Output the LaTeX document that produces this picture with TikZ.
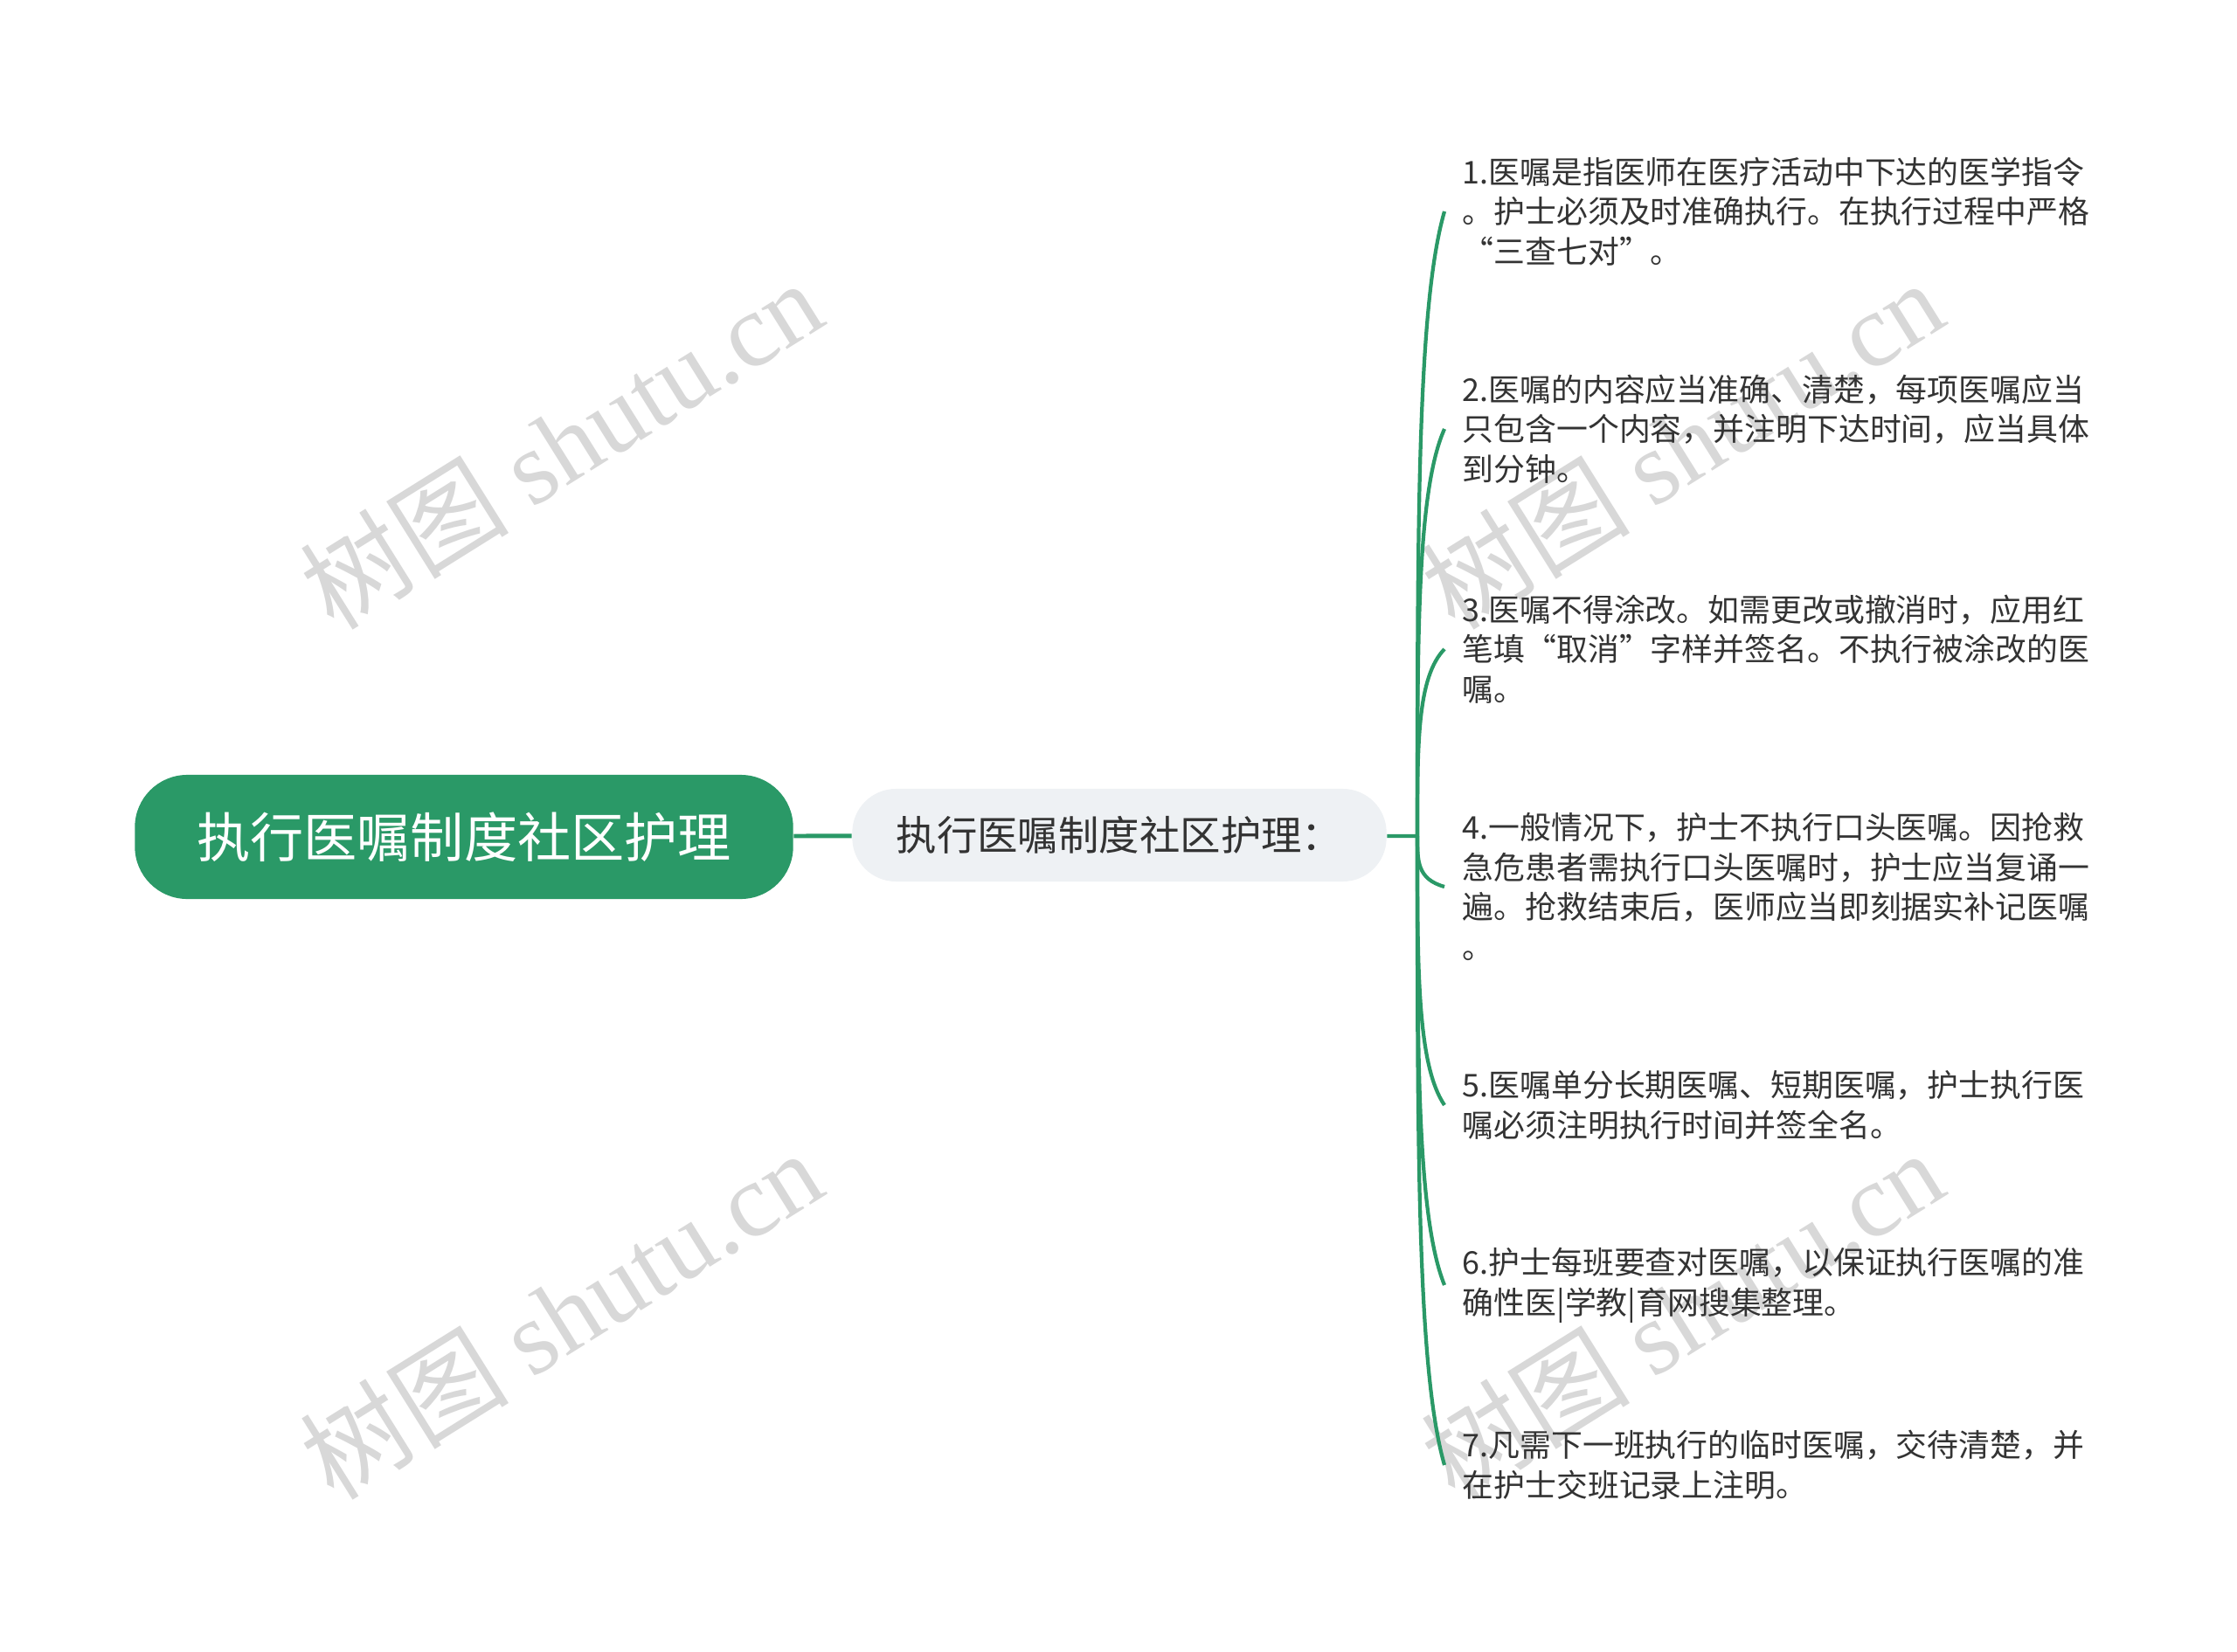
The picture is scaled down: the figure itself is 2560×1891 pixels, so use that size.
\documentclass[tikz,border=0pt]{standalone}
\usepackage{fontspec}
\setmainfont{Noto Sans CJK SC}
\newfontfamily\wmlatin{Liberation Serif}
\usetikzlibrary{calc}
\definecolor{mapgreen}{RGB}{42,153,103}
\definecolor{midgray}{RGB}{238,241,244}
\definecolor{txtgray}{RGB}{51,51,51}
\definecolor{wmgray}{RGB}{216,216,216}
\tikzset{
	rootbox/.style={fill=mapgreen, text=white, rounded corners=0.6cm, minimum width=7.53cm, minimum height=1.42cm, inner sep=0pt, font=\fontsize{17.4pt}{20pt}\selectfont},
	midbox/.style={fill=midgray, text=txtgray, rounded corners=0.5cm, minimum width=6.11cm, minimum height=1.06cm, inner sep=0pt, font=\fontsize{13.2pt}{16pt}\selectfont},
	leafbox/.style={anchor=west, text=txtgray, align=left, inner xsep=0.2cm, inner ysep=0pt, font=\fontsize{10.2pt}{13pt}\selectfont},
	branch/.style={draw=mapgreen, line width=1.2pt},
	wmark/.style={text=wmgray, rotate=32, inner sep=0pt, font=\fontsize{34pt}{36pt}\selectfont}
}
\def\watermark[#1](#2,#3){\node[wmark] (#1) at (#2,#3) {树图 {\wmlatin shutu.cn}};}

\begin{document}
\begin{tikzpicture}[x=0.01cm, y=-0.01cm]
			%%%%% START %%%%%
			
			\useasboundingbox[fill=white] (0, 0) rectangle (2560, 1891);
			
			\watermark[wm1](642, 508)
			\watermark[wm2](642, 1504)
			\watermark[wm3](1925, 508)
			\watermark[wm4](1925, 1504)
			
			\node[rootbox] (root) at (531, 958) {执行医嘱制度社区护理};
			\node[midbox] (mid) at (1281, 956) {执行医嘱制度社区护理：};
			\coordinate (fork) at (1622, 957);
			
			\node[leafbox] (l1) at (1653, 242) {1.医嘱是指医师在医疗活动中下达的医学指令\\。护士必须及时准确执行。在执行过程中严格\\“三查七对”。};
			\node[leafbox] (l2) at (1653, 491) {2.医嘱的内容应当准确、清楚，每项医嘱应当\\只包含一个内容，并注明下达时间，应当具体\\到分钟。};
			\node[leafbox] (l3) at (1653, 743) {3.医嘱不得涂改。如需更改或撤消时，应用红\\笔填“取消”字样并签名。不执行被涂改的医\\嘱。};
			\node[leafbox] (l4) at (1653, 1015) {4.一般情况下，护士不执行口头医嘱。因抢救\\急危患者需执行口头医嘱时，护士应当复诵一\\遍。抢救结束后，医师应当即刻据实补记医嘱\\。};
			\node[leafbox] (l5) at (1653, 1265) {5.医嘱单分长期医嘱、短期医嘱，护士执行医\\嘱必须注明执行时间并签全名。};
			\node[leafbox] (l6) at (1653, 1471) {6.护士每班要查对医嘱，以保证执行医嘱的准\\确性医|学教|育网搜集整理。};
			\node[leafbox] (l7) at (1653, 1677) {7.凡需下一班执行的临时医嘱，交待清楚，并\\在护士交班记录上注明。};
			
			\draw[mapgreen, line width=1.4pt] (root) -- (mid);
			\draw[branch] (mid) -- (fork);
			\foreach \i/\y in {1/242, 2/491, 3/743, 4/1015, 5/1265, 6/1471, 7/1677}
				\draw[branch] (fork) .. controls (1622, {957+0.5*(\y-957)}) and (1622, {\y+0.15*(957-\y)}) .. (l\i.west);
			
			%%%%% END %%%%%
\end{tikzpicture}
\end{document}
